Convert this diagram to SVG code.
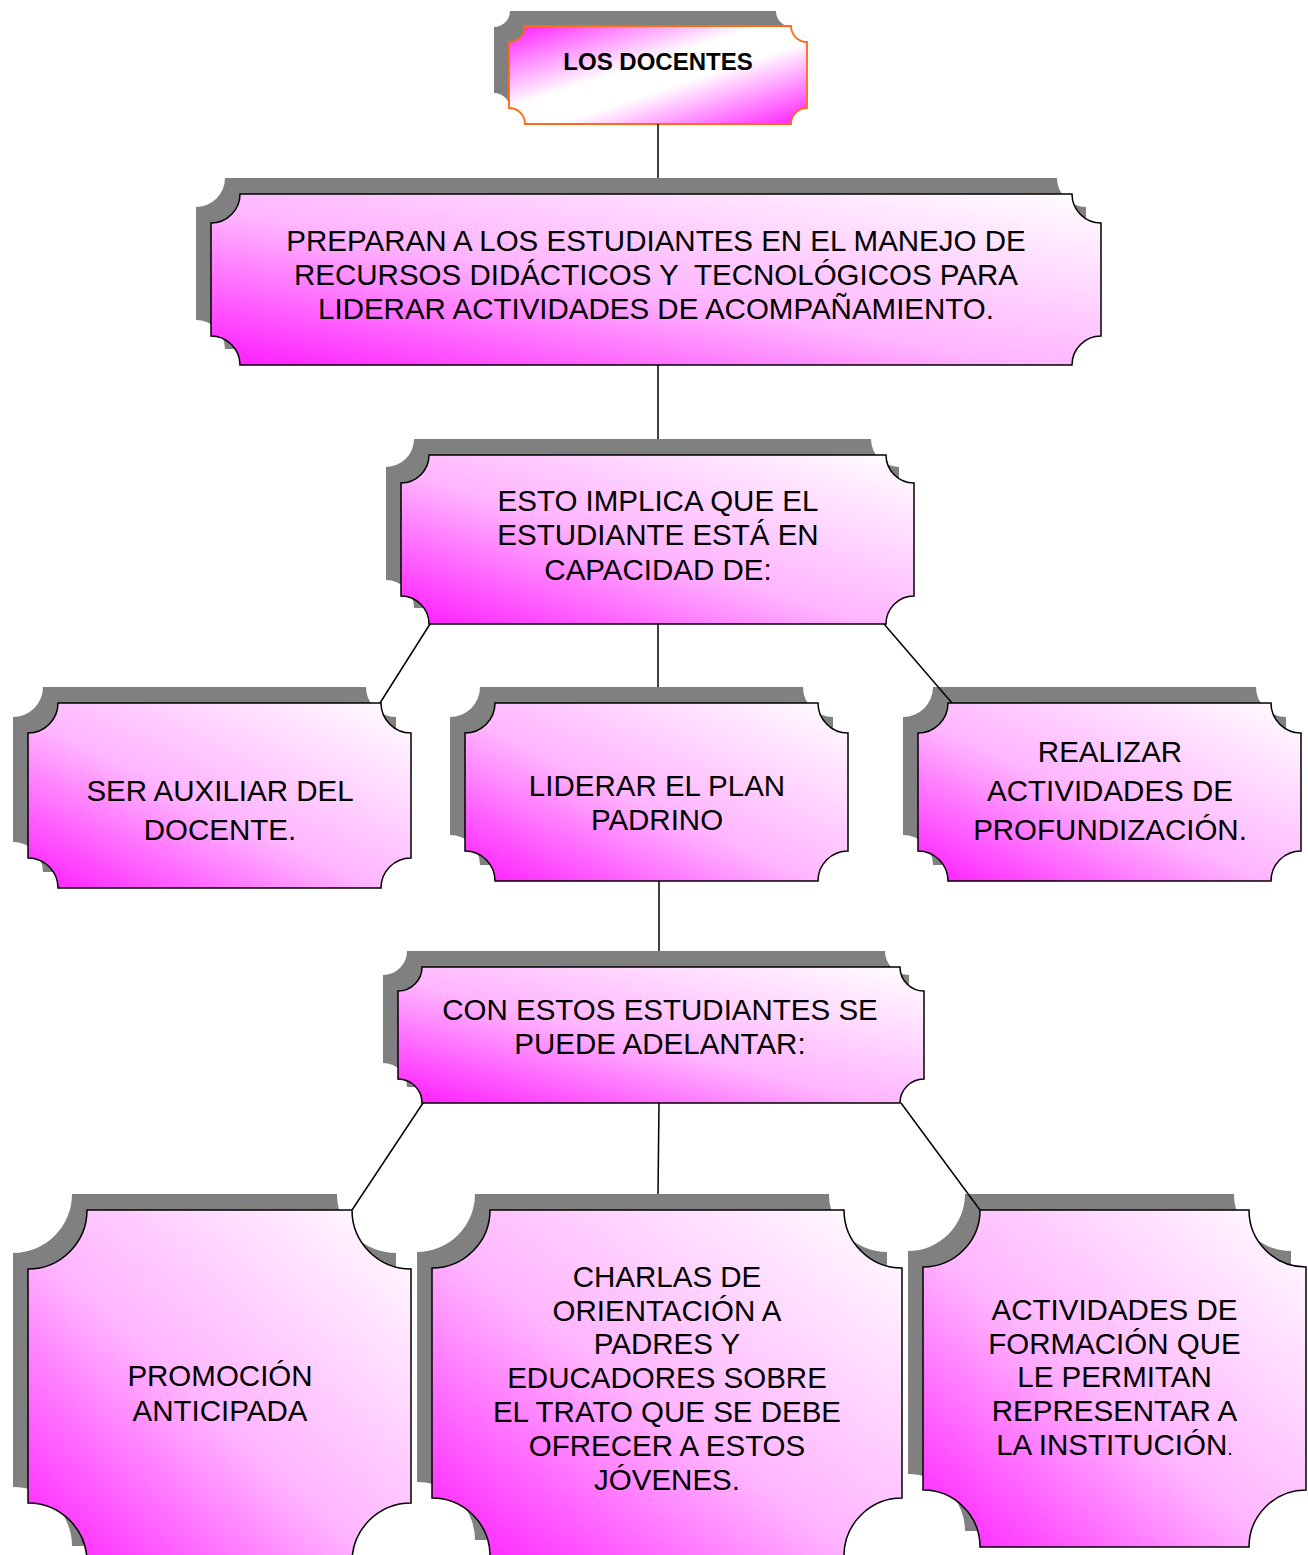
<svg xmlns="http://www.w3.org/2000/svg" width="1308" height="1555" viewBox="0 0 1308 1555">
<style>
.bg{fill:#ffffff}
.shadow{fill:#808080;stroke:none}
.box{fill:url(#g);stroke:#000000;stroke-width:1.5}
.top{fill:url(#g2);stroke:#ff6a13;stroke-width:1.8}
.conn{stroke:#000000;stroke-width:1.5;fill:none}
text{font-family:"Liberation Sans",Arial,sans-serif;font-size:29.5px;fill:#000000;text-anchor:middle;white-space:pre}
.b{font-weight:bold;font-size:24px}
</style>
<defs>
<linearGradient id="g" x1="0" y1="1" x2="1" y2="0">
<stop offset="0" stop-color="#ff1aff"/>
<stop offset="0.45" stop-color="#ffb4ff"/>
<stop offset="1" stop-color="#ffffff"/>
</linearGradient>
<linearGradient id="g2" x1="0" y1="0" x2="1" y2="1">
<stop offset="0" stop-color="#ff1aff"/>
<stop offset="0.42" stop-color="#ffffff"/>
<stop offset="0.58" stop-color="#ffffff"/>
<stop offset="1" stop-color="#ff1aff"/>
</linearGradient>
</defs>
<rect class="bg" x="0" y="0" width="1308" height="1555"/>
<g id="n1">
<path class="shadow" transform="translate(-15,-15)" d="M525,26 H791 A16,16 0 0 0 807,42 V108 A16,16 0 0 0 791,124 H525 A16,16 0 0 0 509,108 V42 A16,16 0 0 0 525,26 Z"/>
<path class="top" d="M525,26 H791 A16,16 0 0 0 807,42 V108 A16,16 0 0 0 791,124 H525 A16,16 0 0 0 509,108 V42 A16,16 0 0 0 525,26 Z"/>
<text class="b" x="658" y="69.5">LOS DOCENTES</text>
</g>
<g id="n2">
<path class="shadow" transform="translate(-15,-16)" d="M240,194 H1072 A29,29 0 0 0 1101,223 V336 A29,29 0 0 0 1072,365 H240 A29,29 0 0 0 211,336 V223 A29,29 0 0 0 240,194 Z"/>
<path class="box" d="M240,194 H1072 A29,29 0 0 0 1101,223 V336 A29,29 0 0 0 1072,365 H240 A29,29 0 0 0 211,336 V223 A29,29 0 0 0 240,194 Z"/>
<text x="656" y="250.5">PREPARAN A LOS ESTUDIANTES EN EL MANEJO DE</text>
<text x="656" y="284.5">RECURSOS DIDÁCTICOS Y  TECNOLÓGICOS PARA</text>
<text x="656" y="318.5">LIDERAR ACTIVIDADES DE ACOMPAÑAMIENTO.</text>
</g>
<g id="n3">
<path class="shadow" transform="translate(-15,-16)" d="M429,455 H886 A28,28 0 0 0 914,483 V596 A28,28 0 0 0 886,624 H429 A28,28 0 0 0 401,596 V483 A28,28 0 0 0 429,455 Z"/>
<path class="box" d="M429,455 H886 A28,28 0 0 0 914,483 V596 A28,28 0 0 0 886,624 H429 A28,28 0 0 0 401,596 V483 A28,28 0 0 0 429,455 Z"/>
<text x="658" y="510.5">ESTO IMPLICA QUE EL</text>
<text x="658" y="544.5">ESTUDIANTE ESTÁ EN</text>
<text x="658" y="579.5">CAPACIDAD DE:</text>
</g>
<g id="n4">
<path class="shadow" transform="translate(-15,-16)" d="M58,703 H381 A30,30 0 0 0 411,733 V858 A30,30 0 0 0 381,888 H58 A30,30 0 0 0 28,858 V733 A30,30 0 0 0 58,703 Z"/>
<path class="box" d="M58,703 H381 A30,30 0 0 0 411,733 V858 A30,30 0 0 0 381,888 H58 A30,30 0 0 0 28,858 V733 A30,30 0 0 0 58,703 Z"/>
<text x="220" y="800.5">SER AUXILIAR DEL</text>
<text x="220" y="839.5">DOCENTE.</text>
</g>
<g id="n5">
<path class="shadow" transform="translate(-15,-16)" d="M495,703 H818 A30,30 0 0 0 848,733 V851 A30,30 0 0 0 818,881 H495 A30,30 0 0 0 465,851 V733 A30,30 0 0 0 495,703 Z"/>
<path class="box" d="M495,703 H818 A30,30 0 0 0 848,733 V851 A30,30 0 0 0 818,881 H495 A30,30 0 0 0 465,851 V733 A30,30 0 0 0 495,703 Z"/>
<text x="657" y="795.5">LIDERAR EL PLAN</text>
<text x="657" y="829.5">PADRINO</text>
</g>
<g id="n6">
<path class="shadow" transform="translate(-15,-16)" d="M948,703 H1271 A30,30 0 0 0 1301,733 V851 A30,30 0 0 0 1271,881 H948 A30,30 0 0 0 918,851 V733 A30,30 0 0 0 948,703 Z"/>
<path class="box" d="M948,703 H1271 A30,30 0 0 0 1301,733 V851 A30,30 0 0 0 1271,881 H948 A30,30 0 0 0 918,851 V733 A30,30 0 0 0 948,703 Z"/>
<text x="1110" y="761.5">REALIZAR</text>
<text x="1110" y="800.5">ACTIVIDADES DE</text>
<text x="1110" y="839.5">PROFUNDIZACIÓN.</text>
</g>
<g id="n7">
<path class="shadow" transform="translate(-15,-16)" d="M422,967 H900 A24,24 0 0 0 924,991 V1079 A24,24 0 0 0 900,1103 H422 A24,24 0 0 0 398,1079 V991 A24,24 0 0 0 422,967 Z"/>
<path class="box" d="M422,967 H900 A24,24 0 0 0 924,991 V1079 A24,24 0 0 0 900,1103 H422 A24,24 0 0 0 398,1079 V991 A24,24 0 0 0 422,967 Z"/>
<text x="660" y="1019.5">CON ESTOS ESTUDIANTES SE</text>
<text x="660" y="1053.5">PUEDE ADELANTAR:</text>
</g>
<g id="n8">
<path class="shadow" transform="translate(-15,-16)" d="M87,1210 H352 A59,59 0 0 0 411,1269 V1503 A59,59 0 0 0 352,1562 H87 A59,59 0 0 0 28,1503 V1269 A59,59 0 0 0 87,1210 Z"/>
<path class="box" d="M87,1210 H352 A59,59 0 0 0 411,1269 V1503 A59,59 0 0 0 352,1562 H87 A59,59 0 0 0 28,1503 V1269 A59,59 0 0 0 87,1210 Z"/>
<text x="220" y="1385.5">PROMOCIÓN</text>
<text x="220" y="1420.5">ANTICIPADA</text>
</g>
<g id="n9">
<path class="shadow" transform="translate(-15,-16)" d="M490,1210 H844 A58,58 0 0 0 902,1268 V1498 A58,58 0 0 0 844,1556 H490 A58,58 0 0 0 432,1498 V1268 A58,58 0 0 0 490,1210 Z"/>
<path class="box" d="M490,1210 H844 A58,58 0 0 0 902,1268 V1498 A58,58 0 0 0 844,1556 H490 A58,58 0 0 0 432,1498 V1268 A58,58 0 0 0 490,1210 Z"/>
<text x="667" y="1286.5">CHARLAS DE</text>
<text x="667" y="1320.5">ORIENTACIÓN A</text>
<text x="667" y="1353.5">PADRES Y</text>
<text x="667" y="1387.5">EDUCADORES SOBRE</text>
<text x="667" y="1421.5">EL TRATO QUE SE DEBE</text>
<text x="667" y="1455.5">OFRECER A ESTOS</text>
<text x="667" y="1489.5">JÓVENES.</text>
</g>
<g id="n10">
<path class="shadow" transform="translate(-15,-16)" d="M980,1210 H1249 A57,57 0 0 0 1306,1267 V1490 A57,57 0 0 0 1249,1547 H980 A57,57 0 0 0 923,1490 V1267 A57,57 0 0 0 980,1210 Z"/>
<path class="box" d="M980,1210 H1249 A57,57 0 0 0 1306,1267 V1490 A57,57 0 0 0 1249,1547 H980 A57,57 0 0 0 923,1490 V1267 A57,57 0 0 0 980,1210 Z"/>
<text x="1114.5" y="1319.5">ACTIVIDADES DE</text>
<text x="1114.5" y="1353.5">FORMACIÓN QUE</text>
<text x="1114.5" y="1386.5">LE PERMITAN</text>
<text x="1114.5" y="1420.5">REPRESENTAR A</text>
<text x="1114.5" y="1454.5">LA INSTITUCIÓN<tspan style="font-size:20px">.</tspan></text>
</g>
<g id="connectors">
<line class="conn" x1="658" y1="124" x2="658" y2="178"/>
<line class="conn" x1="658" y1="365" x2="658" y2="439"/>
<line class="conn" x1="658" y1="624" x2="658" y2="687"/>
<line class="conn" x1="430" y1="624" x2="380" y2="703"/>
<line class="conn" x1="884" y1="624" x2="952" y2="703"/>
<line class="conn" x1="659" y1="881" x2="659" y2="951"/>
<line class="conn" x1="423" y1="1103" x2="352" y2="1210"/>
<line class="conn" x1="659" y1="1103" x2="658" y2="1194"/>
<line class="conn" x1="901" y1="1103" x2="980" y2="1210"/>
</g>
</svg>
